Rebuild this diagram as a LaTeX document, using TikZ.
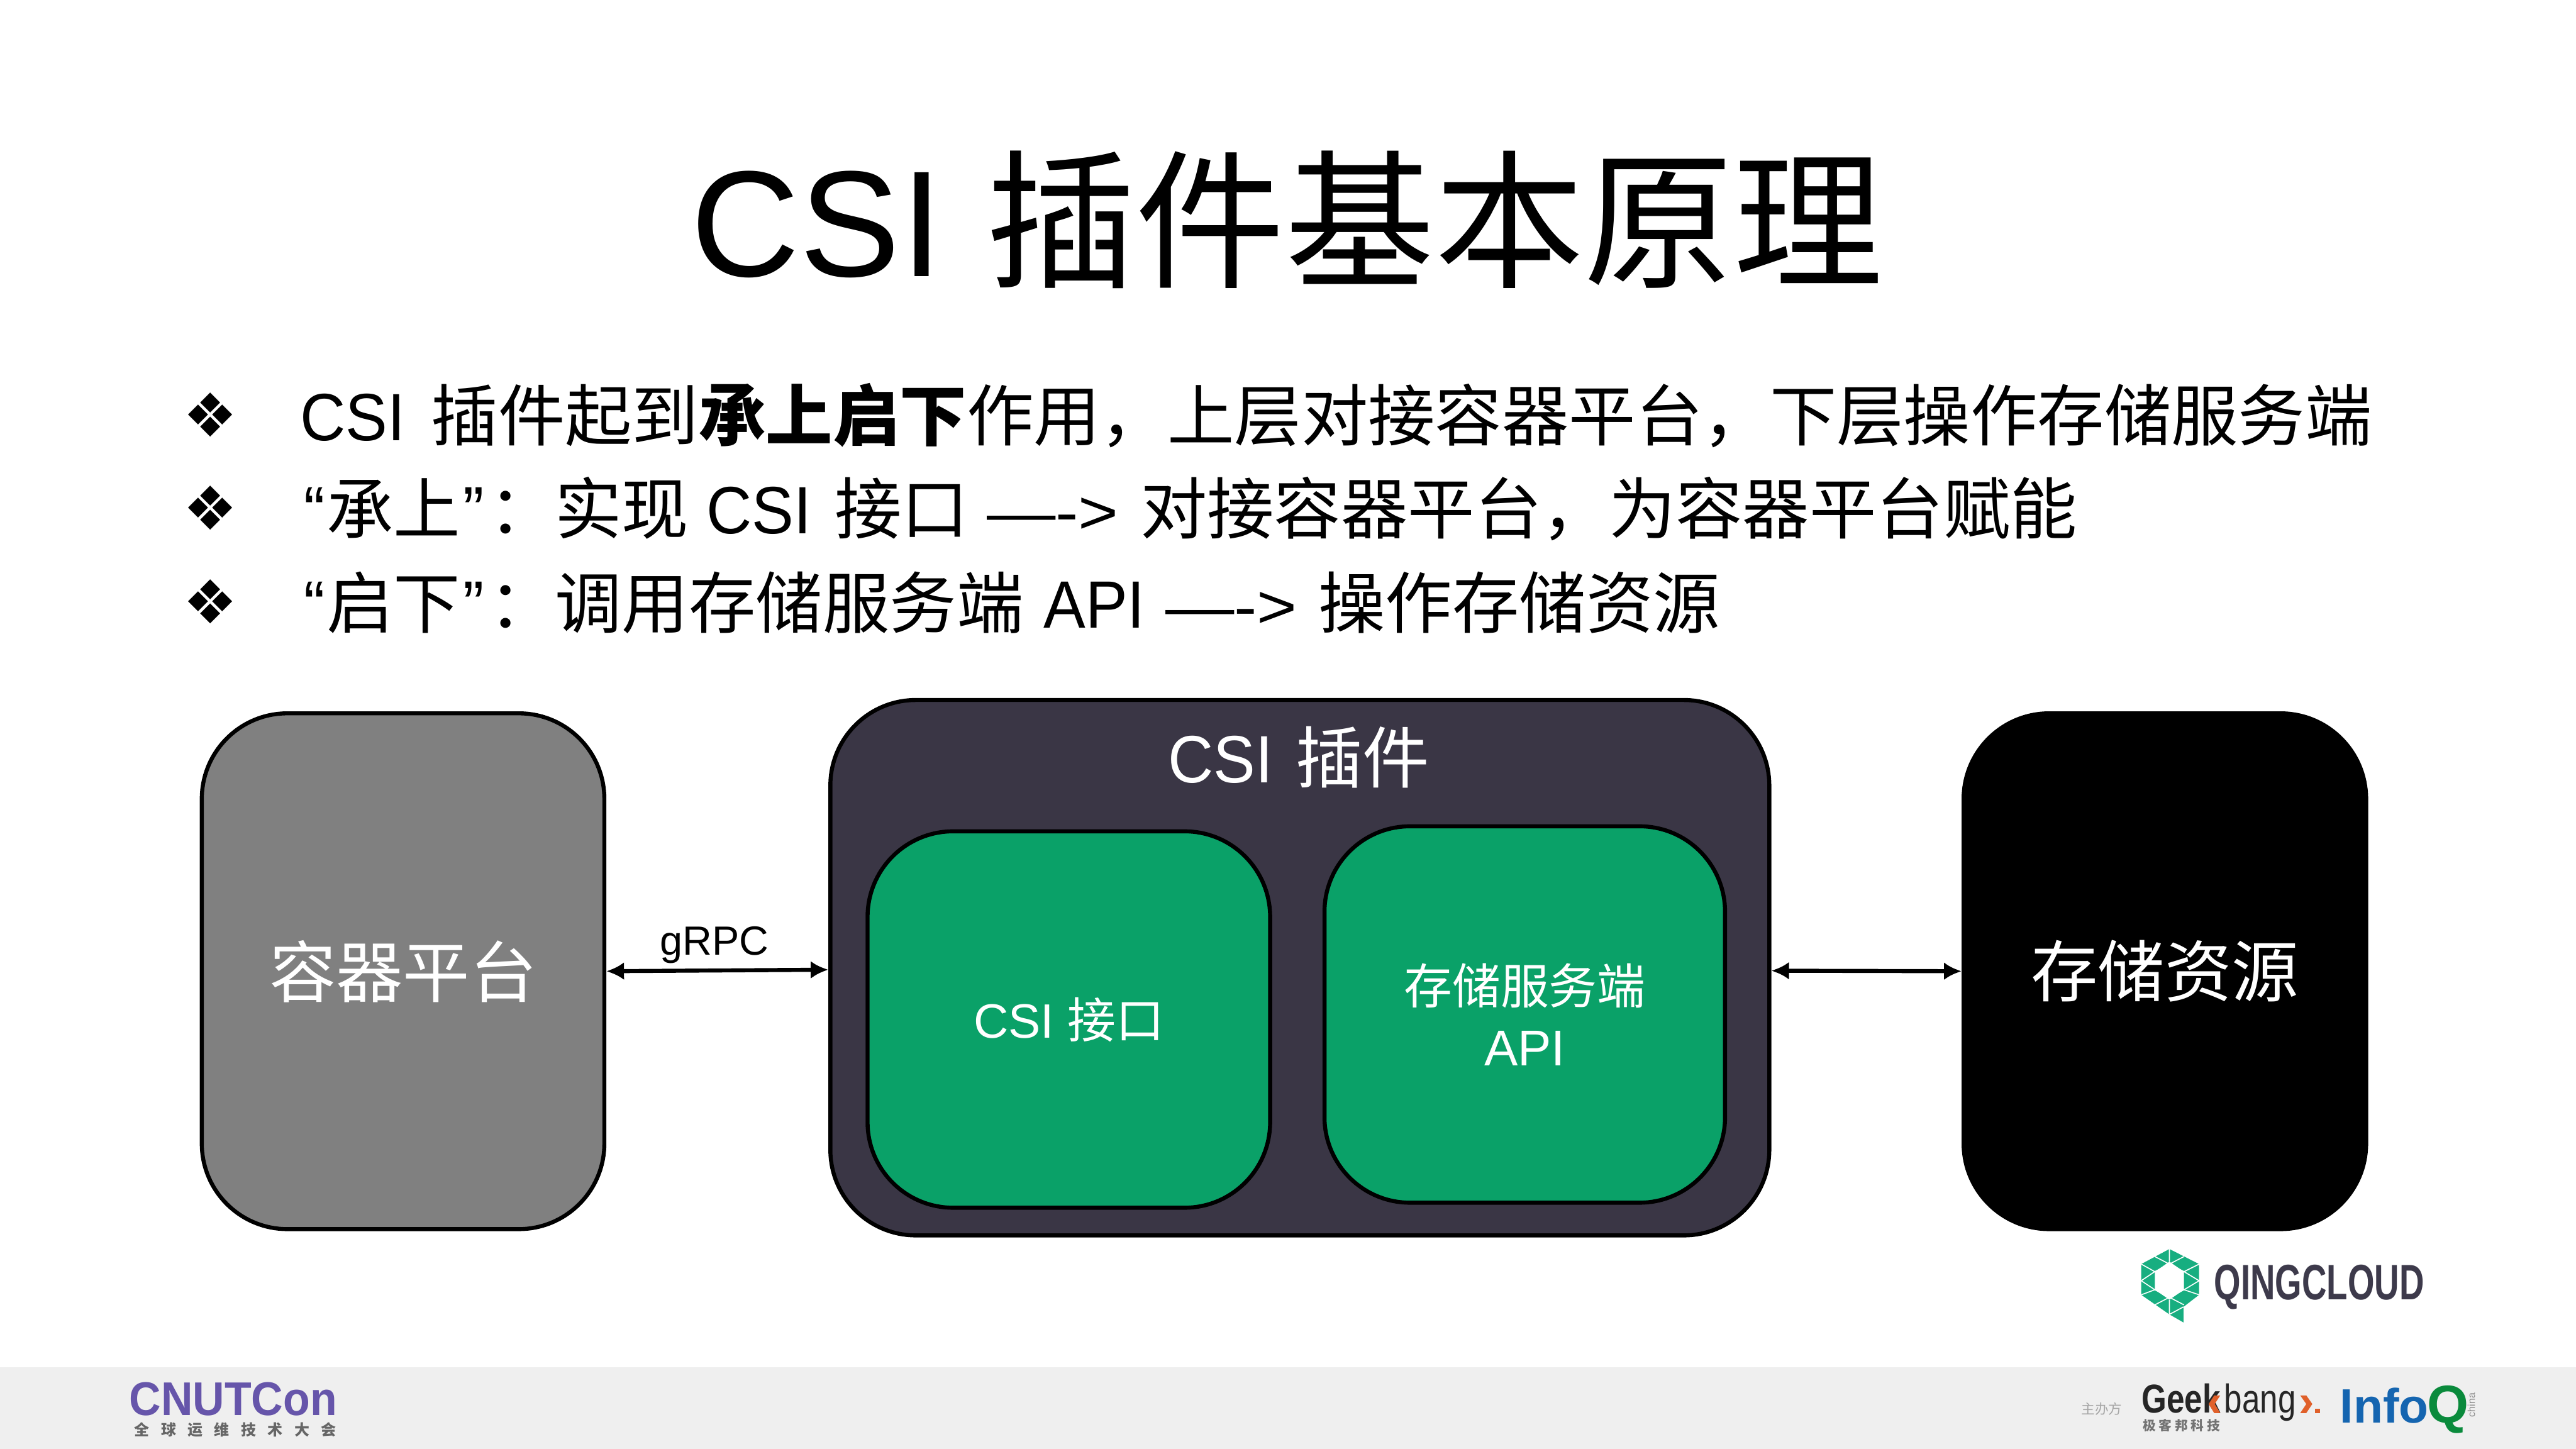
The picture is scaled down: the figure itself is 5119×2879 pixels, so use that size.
\documentclass[tikz,border=0pt]{standalone}
\usepackage{fontspec}
\usepackage{graphicx}
\setmainfont{Liberation Sans}
\newfontfamily\cjk{Noto Sans CJK SC}
\newfontfamily\dejavu{DejaVu Sans}
\definecolor{platgray}{HTML}{808080}
\definecolor{plugdark}{HTML}{3A3645}
\definecolor{boxgreen}{HTML}{0AA168}
\definecolor{footgray}{HTML}{EFEFEF}
\definecolor{qgreen}{HTML}{17AE80}
\definecolor{qtext}{HTML}{3D3A4B}
\definecolor{cnpurple}{HTML}{6655AA}
\definecolor{gborange}{HTML}{E0602A}
\definecolor{iqblue}{HTML}{1565B0}
\definecolor{iqgreen}{HTML}{0A8A3C}
\newcommand{\sz}[1]{\fontsize{#1pt}{#1pt}\selectfont}
\newcommand{\lat}[1]{\scalebox{0.94}[1]{\sz{13.3}#1}}
\usetikzlibrary{arrows.meta}
\tikzset{
  bx/.style={draw=black,line width=0.8pt,rounded corners=17pt,align=center,text=white,inner sep=0pt},
  ln/.style={anchor=base west,inner sep=0pt,text=black},
  bul/.style={anchor=center,inner sep=0pt,text=black},
  biarrow/.style={{Latex[length=3.5pt,width=3.5pt]}-{Latex[length=3.5pt,width=3.5pt]},line width=0.8pt},
}
\begin{document}
\begin{tikzpicture}[x=0.1pt,y=-0.1pt]
\useasboundingbox (0,0) rectangle (5119,2879);
\fill[white] (0,0) rectangle (5119,2879);
\fill[footgray] (0,2717) rectangle (5119,2879);
% title
\node[ln] (t1) at (1371,549) {\sz{30}CSI};
\node[ln] (t2) at (1958,549) {\sz{29.7}\cjk 插件基本原理};
% bullets
\node[bul] (b1) at (418,824) {\sz{12}\dejavu ❖};
\node[bul] (b2) at (418,1010) {\sz{12}\dejavu ❖};
\node[bul] (b3) at (418,1196) {\sz{12}\dejavu ❖};
% line 1
\node[ln] (a1) at (595,875) {\lat{CSI}};
\node[ln] (a2) at (855,875) {\sz{13.3}\cjk 插件起到\bfseries 承上启下\mdseries 作用，上层对接容器平台，下层操作存储服务端};
% line 2
\node[ln] (c1) at (602,1061) {\lat{“}};
\node[ln] (c2) at (647,1061) {\sz{13.3}\cjk 承上};
\node[ln] (c3) at (918,1061) {\lat{”}};
\node[ln] (c4) at (970,1061) {\sz{13.3}\cjk ：};
\node[ln] (c5) at (1101,1061) {\sz{13.3}\cjk 实现};
\node[ln] (c6) at (1402,1061) {\lat{CSI}};
\node[ln] (c7) at (1657,1061) {\sz{13.3}\cjk 接口};
\node[ln] (c8) at (1959,1061) {\scalebox{1.12}[1]{\sz{12.2}—->}};
\node[ln] (c9) at (2264,1061) {\sz{13.3}\cjk 对接容器平台，为容器平台赋能};
% line 3
\node[ln] (d1) at (602,1248) {\lat{“}};
\node[ln] (d2) at (647,1248) {\sz{13.3}\cjk 启下};
\node[ln] (d3) at (918,1248) {\lat{”}};
\node[ln] (d4) at (970,1248) {\sz{13.3}\cjk ：};
\node[ln] (d5) at (1101,1248) {\sz{13.3}\cjk 调用存储服务端};
\node[ln] (d6) at (2072,1248) {\lat{API}};
\node[ln] (d7) at (2314,1248) {\scalebox{1.12}[1]{\sz{12.2}—->}};
\node[ln] (d8) at (2618,1248) {\sz{13.3}\cjk 操作存储资源};
% boxes
\node[bx,fill=platgray,minimum width=80pt,minimum height=102.5pt] (plat) at (801,1930) {\sz{13.3}\cjk 容器平台};
\node[bx,fill=plugdark,minimum width=186.6pt,minimum height=106.4pt] (plug) at (2583,1923) {};
\node[text=white,inner sep=0pt] (plugl) at (2581,1505) {\lat{CSI}\hspace{4.5pt}{\sz{13.3}\cjk 插件}};
\node[bx,fill=boxgreen,minimum width=80pt,minimum height=74.8pt] (g1) at (2124,2026) {\sz{9.6}CSI {\cjk 接口}};
\node[bx,fill=boxgreen,minimum width=79.6pt,minimum height=74.8pt] (g2) at (3030,2016) {\sz{9.6}{\cjk 存储服务端}\\[0.2pt]API};
\node[bx,fill=black,minimum width=80pt,minimum height=102.5pt] (store) at (4302,1930) {\sz{13.3}\cjk 存储资源};
% connectors
\draw[biarrow] (plat.east) -- ([yshift=-0.4pt]plug.west);
\draw[biarrow] ([yshift=-0.6pt]plug.east) -- (store.west);
\node[anchor=base,inner sep=0pt] (grpc) at (1420,1898) {\sz{8.1}gRPC};
% QingCloud logo
\fill[qgreen,even odd rule] (4311,2482) -- (4370,2512) -- (4370,2573) -- (4339,2597) -- (4339,2628) -- (4311,2612) -- (4255,2573) -- (4255,2512) -- cycle
  (4311,2507) -- (4340,2527) -- (4340,2563) -- (4311,2583) -- (4282,2563) -- (4282,2527) -- cycle;
\draw[white,line width=0.2pt] (4311,2482) -- (4311,2507) (4282,2497) -- (4340,2527) (4340,2497) -- (4282,2527)
 (4255,2512) -- (4282,2527) (4370,2512) -- (4340,2527) (4255,2545) -- (4282,2527) (4370,2545) -- (4340,2527) (4255,2545) -- (4282,2563) (4370,2545) -- (4340,2563)
 (4255,2573) -- (4282,2563) (4370,2573) -- (4340,2563) (4282,2593) -- (4340,2563) (4340,2593) -- (4282,2563) (4311,2583) -- (4311,2612) (4311,2612) -- (4339,2597);
\node[anchor=base west,inner sep=0pt,text=qtext] (qc) at (4398,2583) {\scalebox{0.69}[1]{\sz{9.9}\bfseries QINGCLOUD}};
% CNUTCon
\node[anchor=base west,inner sep=0pt,text=cnpurple] (cn1) at (255,2812) {\scalebox{0.93}[1]{\sz{9.4}\bfseries CNUTCon}};
\node[anchor=base west,inner sep=0pt,text=black!60] (cn2) at (265,2852) {\sz{3}\cjk\bfseries 全\hspace{2.3pt}球\hspace{2.3pt}运\hspace{2.3pt}维\hspace{2.3pt}技\hspace{2.3pt}术\hspace{2.3pt}大\hspace{2.3pt}会};
% Geekbang
\node[anchor=base west,inner sep=0pt,text=black!35] (zb) at (4134,2810) {\sz{2.7}\cjk 主办方};
\node[anchor=base west,inner sep=0pt,text=black!85] (gk) at (4254,2808) {\scalebox{0.8}[1]{\sz{8}\bfseries Geek}};
\fill[gborange] (4412,2773) -- (4400,2773) -- (4389,2790) -- (4400,2808) -- (4412,2808) -- (4401,2790) -- cycle;
\node[anchor=base west,inner sep=0pt,text=black!85] (bg) at (4418,2808) {\scalebox{0.8}[1]{\sz{8}bang}};
\fill[gborange] (4571,2773) -- (4583,2773) -- (4595,2790) -- (4583,2808) -- (4571,2808) -- (4583,2790) -- cycle;
\fill[gborange] (4600,2800) rectangle (4610,2808);
\node[anchor=base west,inner sep=0pt,text=black!55] (jk) at (4256,2843) {\sz{2.6}\cjk\bfseries 极\hspace{0.6pt}客\hspace{0.6pt}邦\hspace{0.6pt}科\hspace{0.6pt}技};
% InfoQ
\node[anchor=base west,inner sep=0pt,text=iqblue] (iq1) at (4648,2827) {\sz{9.6}\bfseries Info};
\node[anchor=base west,inner sep=0pt,text=iqgreen] (iq2) at (4821,2827) {\sz{10.6}\bfseries Q};
\node[rotate=90,inner sep=0pt,text=black!45] (iq3) at (4911,2792) {\sz{2}china};
\end{tikzpicture}
\end{document}
